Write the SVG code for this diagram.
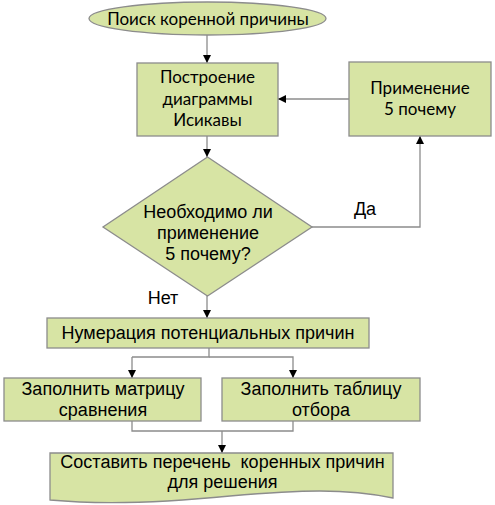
<svg xmlns="http://www.w3.org/2000/svg" width="495" height="505" viewBox="0 0 495 505">
<defs>
<marker id="arr" viewBox="0 0 10 10" refX="10" refY="5" markerWidth="8" markerHeight="8" markerUnits="userSpaceOnUse" orient="auto">
<path d="M0,0 L10,5 L0,10 Z" fill="#000"/>
</marker>
<style>
.shape{fill:#d7e4a4;stroke:#8c8c8c;stroke-width:1.3}
.c{fill:none;stroke:#8c8c8c;stroke-width:1.3}
.a{marker-end:url(#arr)}
.t1{font-family:Lato,"Open Sans",sans-serif;font-size:17px;fill:#000;text-anchor:middle}
.t2{font-family:"Liberation Sans",Arial,sans-serif;font-size:18px;fill:#000;text-anchor:middle}
</style>
</defs>
<rect width="495" height="505" fill="#fff"/>
<g id="connectors">
<path class="c a" d="M207,35 V63"/>
<path class="c a" d="M349,99 H278"/>
<path class="c a" d="M207,136 V157"/>
<path class="c a" d="M312,227 H420 V136"/>
<path class="c a" d="M207,296 V318"/>
<path class="c" d="M209,348 V357 H132"/>
<path class="c a" d="M132,357 V378"/>
<path class="c a" d="M209,357 H293 V378"/>
<path class="c" d="M132,421 V431 H293 V421"/>
<path class="c a" d="M222,431 V453"/>
<text class="t2" x="365" y="215">Да</text>
<text class="t2" x="163" y="304">Нет</text>
</g>
<g id="start">
<ellipse class="shape" cx="207.5" cy="18.5" rx="118.5" ry="16.5"/>
<text class="t1" x="208" y="24.5">Поиск коренной причины</text>
</g>
<g id="ishikawa">
<rect class="shape" x="137" y="63" width="141" height="73"/>
<text class="t1" x="207.5" y="83">Построение</text>
<text class="t1" x="207.5" y="104.5">диаграммы</text>
<text class="t1" x="207.5" y="126">Исикавы</text>
</g>
<g id="five-why">
<rect class="shape" x="349" y="62" width="142" height="74"/>
<text class="t1" x="420" y="94">Применение</text>
<text class="t1" x="420" y="115">5 почему</text>
</g>
<g id="decision">
<polygon class="shape" points="207.5,157 312,227 207.5,296 103,227"/>
<text class="t2" x="208" y="218">Необходимо ли</text>
<text class="t2" x="208" y="239">применение</text>
<text class="t2" x="208" y="260">5 почему?</text>
</g>
<g id="enumerate">
<rect class="shape" x="47" y="318" width="322" height="30"/>
<text class="t2" x="208" y="339">Нумерация потенциальных причин</text>
</g>
<g id="matrix">
<rect class="shape" x="4" y="378" width="197" height="43"/>
<text class="t2" x="103" y="395">Заполнить матрицу</text>
<text class="t2" x="103" y="416">сравнения</text>
</g>
<g id="table">
<rect class="shape" x="222" y="378" width="198" height="43"/>
<text class="t2" x="321" y="395">Заполнить таблицу</text>
<text class="t2" x="321" y="416">отбора</text>
</g>
<g id="list">
<path class="shape" d="M50,453 H393 V498 C345,488 300,490 230,496 C160,503 105,505 50,500 Z"/>
<text class="t2" x="222.5" y="468" xml:space="preserve">Составить перечень  коренных причин</text>
<text class="t2" x="222.5" y="488">для решения</text>
</g>
</svg>
